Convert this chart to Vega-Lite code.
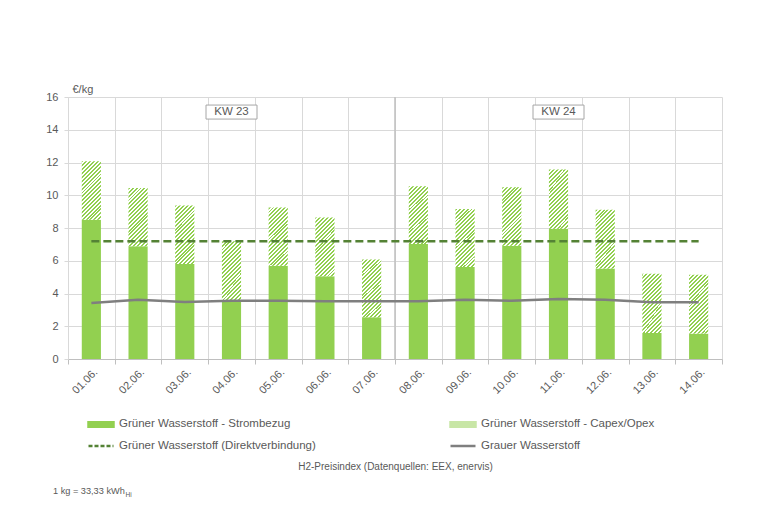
{
  "$schema": "https://vega.github.io/schema/vega-lite/v6.json",
  "width": 654,
  "height": 262,
  "autosize": {"type": "none"},
  "padding": {"left": 68, "top": 97, "right": 38, "bottom": 166},
  "config": {
    "font": "Liberation Sans",
    "view": {"stroke": null},
    "axis": {"labelColor": "#595959", "titleColor": "#595959", "labelFontSize": 11, "gridColor": "#d9d9d9", "tickColor": "#d9d9d9", "domainColor": "#d9d9d9", "titleFontWeight": "normal", "labelFont": "Liberation Sans", "titleFont": "Liberation Sans"},
    "axisY": {"tickCount": 10, "labelOverlap": false, "grid": true, "tickSize": 4, "labelPadding": 6, "titleAngle": 0, "titleAlign": "left", "titleBaseline": "alphabetic", "titleX": 4, "titleY": -5, "titleFontSize": 11}
  },
  "datasets": {
    "main": [
      {"date": "01.06.", "strom": 8.51, "total": 12.08, "direkt": 7.19, "grau": 3.42},
      {"date": "02.06.", "strom": 6.88, "total": 10.45, "direkt": 7.19, "grau": 3.62},
      {"date": "03.06.", "strom": 5.80, "total": 9.37, "direkt": 7.19, "grau": 3.48},
      {"date": "04.06.", "strom": 3.58, "total": 7.19, "direkt": 7.19, "grau": 3.56},
      {"date": "05.06.", "strom": 5.70, "total": 9.25, "direkt": 7.19, "grau": 3.56},
      {"date": "06.06.", "strom": 5.05, "total": 8.64, "direkt": 7.19, "grau": 3.52},
      {"date": "07.06.", "strom": 2.55, "total": 6.07, "direkt": 7.19, "grau": 3.52},
      {"date": "08.06.", "strom": 7.03, "total": 10.55, "direkt": 7.19, "grau": 3.52},
      {"date": "09.06.", "strom": 5.62, "total": 9.16, "direkt": 7.19, "grau": 3.62},
      {"date": "10.06.", "strom": 6.92, "total": 10.49, "direkt": 7.19, "grau": 3.56},
      {"date": "11.06.", "strom": 7.96, "total": 11.57, "direkt": 7.19, "grau": 3.66},
      {"date": "12.06.", "strom": 5.52, "total": 9.12, "direkt": 7.19, "grau": 3.62},
      {"date": "13.06.", "strom": 1.59, "total": 5.21, "direkt": 7.19, "grau": 3.46},
      {"date": "14.06.", "strom": 1.55, "total": 5.15, "direkt": 7.19, "grau": 3.46}
    ],
    "kw": [
      {"date": "04.06.", "label": "KW 23", "ypos": 15.08},
      {"date": "11.06.", "label": "KW 24", "ypos": 15.08}
    ],
    "sep": [{"date": "08.06."}],
    "note": [{"date": "01.06.", "note": "1 kg = 33,33 kWh", "sub": "Hi", "ny": -8.24, "sy": -8.45}]
  },
  "data": {"name": "main"},
  "encoding": {
    "x": {
      "field": "date", "type": "nominal", "sort": null,
      "scale": {"domain": ["01.06.", "02.06.", "03.06.", "04.06.", "05.06.", "06.06.", "07.06.", "08.06.", "09.06.", "10.06.", "11.06.", "12.06.", "13.06.", "14.06."], "paddingInner": 0, "paddingOuter": 0},
      "axis": {"grid": true, "tickBand": "extent", "domainColor": "#bfbfbf", "tickColor": "#bfbfbf", "tickSize": 5, "labelAngle": -45, "labelPadding": 2, "title": "H2-Preisindex (Datenquellen: EEX, enervis)", "titleFontSize": 10, "titleY": 110, "titleBaseline": "alphabetic"}
    }
  },
  "layer": [
    {
      "mark": {"type": "bar", "width": {"band": 0.41}},
      "encoding": {
        "y": {"field": "strom", "type": "quantitative", "title": "€/kg", "scale": {"domain": [0, 16], "nice": false},
          "axis": {"values": [0, 2, 4, 6, 8, 10, 12, 14, 16], "tickCount": 10}},
        "color": {
          "datum": "Grüner Wasserstoff - Strombezug",
          "scale": {
            "domain": ["Grüner Wasserstoff - Strombezug", "Grüner Wasserstoff - Capex/Opex", "Grüner Wasserstoff (Direktverbindung)", "Grauer Wasserstoff"],
            "range": ["#92d050", "#c8e6a6", "#548235", "#7f7f7f"]
          },
          "legend": {
            "orient": "none", "legendX": 19, "legendY": 313, "columns": 2, "direction": "horizontal", "columnPadding": 129, "rowPadding": -4,
            "title": null, "labelFontSize": 11.5, "labelColor": "#595959", "labelLimit": 400, "labelOffset": 4, "labelFont": "Liberation Sans", "symbolSize": 625,
            "encode": {
              "symbols": {
                "update": {
                  "shape": [{"test": "datum.value === 'Grüner Wasserstoff (Direktverbindung)' || datum.value === 'Grauer Wasserstoff'", "value": "stroke"}, {"value": "M-1,-0.18H1V0.18H-1Z"}],
                  "fill": [
                    {"test": "datum.value === 'Grüner Wasserstoff - Strombezug'", "value": "#92d050"},
                    {"test": "datum.value === 'Grüner Wasserstoff - Capex/Opex'", "value": {"gradient": "linear", "x1": 0, "y1": 0, "x2": 1.143, "y2": 0.206, "stops": [
                      {"offset": 0, "color": "#92d050"}, {"offset": 0.0625, "color": "#92d050"}, {"offset": 0.0625, "color": "#ffffff"}, {"offset": 0.125, "color": "#ffffff"},
                      {"offset": 0.125, "color": "#92d050"}, {"offset": 0.1875, "color": "#92d050"}, {"offset": 0.1875, "color": "#ffffff"}, {"offset": 0.25, "color": "#ffffff"},
                      {"offset": 0.25, "color": "#92d050"}, {"offset": 0.3125, "color": "#92d050"}, {"offset": 0.3125, "color": "#ffffff"}, {"offset": 0.375, "color": "#ffffff"},
                      {"offset": 0.375, "color": "#92d050"}, {"offset": 0.4375, "color": "#92d050"}, {"offset": 0.4375, "color": "#ffffff"}, {"offset": 0.5, "color": "#ffffff"},
                      {"offset": 0.5, "color": "#92d050"}, {"offset": 0.5625, "color": "#92d050"}, {"offset": 0.5625, "color": "#ffffff"}, {"offset": 0.625, "color": "#ffffff"},
                      {"offset": 0.625, "color": "#92d050"}, {"offset": 0.6875, "color": "#92d050"}, {"offset": 0.6875, "color": "#ffffff"}, {"offset": 0.75, "color": "#ffffff"},
                      {"offset": 0.75, "color": "#92d050"}, {"offset": 0.8125, "color": "#92d050"}, {"offset": 0.8125, "color": "#ffffff"}, {"offset": 0.875, "color": "#ffffff"},
                      {"offset": 0.875, "color": "#92d050"}, {"offset": 0.9375, "color": "#92d050"}, {"offset": 0.9375, "color": "#ffffff"}, {"offset": 1, "color": "#ffffff"}
                    ]}},
                    {"value": "transparent"}
                  ],
                  "stroke": [
                    {"test": "datum.value === 'Grüner Wasserstoff (Direktverbindung)'", "value": "#548235"},
                    {"test": "datum.value === 'Grauer Wasserstoff'", "value": "#7f7f7f"},
                    {"value": "transparent"}
                  ],
                  "strokeDash": [{"test": "datum.value === 'Grüner Wasserstoff (Direktverbindung)'", "value": [4, 2]}, {"value": []}],
                  "strokeWidth": {"value": 2.5},
                  "size": {"value": 625},
                  "opacity": {"value": 1}
                }
              }
            }
          }
        }
      }
    },
    {
      "mark": {"type": "bar", "width": {"band": 0.41}},
      "encoding": {
        "y": {"field": "strom", "type": "quantitative", "title": "€/kg"},
        "y2": {"field": "total"},
        "color": {
          "condition": {"test": "true", "value": {"gradient": "linear", "x1": 0, "y1": 0, "x2": 0.393, "y2": 1.199, "stops": [
                {"offset": 0, "color": "#92d050"}, {"offset": 0.025, "color": "#92d050"}, {"offset": 0.025, "color": "#ffffff"}, {"offset": 0.05, "color": "#ffffff"},
                {"offset": 0.05, "color": "#92d050"}, {"offset": 0.075, "color": "#92d050"}, {"offset": 0.075, "color": "#ffffff"}, {"offset": 0.1, "color": "#ffffff"},
                {"offset": 0.1, "color": "#92d050"}, {"offset": 0.125, "color": "#92d050"}, {"offset": 0.125, "color": "#ffffff"}, {"offset": 0.15, "color": "#ffffff"},
                {"offset": 0.15, "color": "#92d050"}, {"offset": 0.175, "color": "#92d050"}, {"offset": 0.175, "color": "#ffffff"}, {"offset": 0.2, "color": "#ffffff"},
                {"offset": 0.2, "color": "#92d050"}, {"offset": 0.225, "color": "#92d050"}, {"offset": 0.225, "color": "#ffffff"}, {"offset": 0.25, "color": "#ffffff"},
                {"offset": 0.25, "color": "#92d050"}, {"offset": 0.275, "color": "#92d050"}, {"offset": 0.275, "color": "#ffffff"}, {"offset": 0.3, "color": "#ffffff"},
                {"offset": 0.3, "color": "#92d050"}, {"offset": 0.325, "color": "#92d050"}, {"offset": 0.325, "color": "#ffffff"}, {"offset": 0.35, "color": "#ffffff"},
                {"offset": 0.35, "color": "#92d050"}, {"offset": 0.375, "color": "#92d050"}, {"offset": 0.375, "color": "#ffffff"}, {"offset": 0.4, "color": "#ffffff"},
                {"offset": 0.4, "color": "#92d050"}, {"offset": 0.425, "color": "#92d050"}, {"offset": 0.425, "color": "#ffffff"}, {"offset": 0.45, "color": "#ffffff"},
                {"offset": 0.45, "color": "#92d050"}, {"offset": 0.475, "color": "#92d050"}, {"offset": 0.475, "color": "#ffffff"}, {"offset": 0.5, "color": "#ffffff"},
                {"offset": 0.5, "color": "#92d050"}, {"offset": 0.525, "color": "#92d050"}, {"offset": 0.525, "color": "#ffffff"}, {"offset": 0.55, "color": "#ffffff"},
                {"offset": 0.55, "color": "#92d050"}, {"offset": 0.575, "color": "#92d050"}, {"offset": 0.575, "color": "#ffffff"}, {"offset": 0.6, "color": "#ffffff"},
                {"offset": 0.6, "color": "#92d050"}, {"offset": 0.625, "color": "#92d050"}, {"offset": 0.625, "color": "#ffffff"}, {"offset": 0.65, "color": "#ffffff"},
                {"offset": 0.65, "color": "#92d050"}, {"offset": 0.675, "color": "#92d050"}, {"offset": 0.675, "color": "#ffffff"}, {"offset": 0.7, "color": "#ffffff"},
                {"offset": 0.7, "color": "#92d050"}, {"offset": 0.725, "color": "#92d050"}, {"offset": 0.725, "color": "#ffffff"}, {"offset": 0.75, "color": "#ffffff"},
                {"offset": 0.75, "color": "#92d050"}, {"offset": 0.775, "color": "#92d050"}, {"offset": 0.775, "color": "#ffffff"}, {"offset": 0.8, "color": "#ffffff"},
                {"offset": 0.8, "color": "#92d050"}, {"offset": 0.825, "color": "#92d050"}, {"offset": 0.825, "color": "#ffffff"}, {"offset": 0.85, "color": "#ffffff"},
                {"offset": 0.85, "color": "#92d050"}, {"offset": 0.875, "color": "#92d050"}, {"offset": 0.875, "color": "#ffffff"}, {"offset": 0.9, "color": "#ffffff"},
                {"offset": 0.9, "color": "#92d050"}, {"offset": 0.925, "color": "#92d050"}, {"offset": 0.925, "color": "#ffffff"}, {"offset": 0.95, "color": "#ffffff"},
                {"offset": 0.95, "color": "#92d050"}, {"offset": 0.975, "color": "#92d050"}, {"offset": 0.975, "color": "#ffffff"}, {"offset": 1, "color": "#ffffff"}
              ]}},
          "datum": "Grüner Wasserstoff - Capex/Opex"
        }
      }
    },
    {
      "data": {"name": "sep"},
      "mark": {"type": "rule", "color": "#bfbfbf", "strokeWidth": 1.5},
      "encoding": {"x": {"field": "date", "type": "nominal", "bandPosition": 0}}
    },
    {
      "mark": {"type": "line", "strokeDash": [8, 4], "strokeWidth": 2.3},
      "encoding": {
        "y": {"field": "direkt", "type": "quantitative", "title": "€/kg"},
        "color": {"datum": "Grüner Wasserstoff (Direktverbindung)"}
      }
    },
    {
      "mark": {"type": "line", "strokeWidth": 2.5},
      "encoding": {
        "y": {"field": "grau", "type": "quantitative", "title": "€/kg"},
        "color": {"datum": "Grauer Wasserstoff"}
      }
    },
    {
      "data": {"name": "kw"},
      "mark": {"type": "point", "shape": "M-1,-0.275H1V0.275H-1Z", "size": 2601, "filled": true, "color": "#ffffff", "stroke": "#a6a6a6", "strokeWidth": 1, "opacity": 1},
      "encoding": {"y": {"field": "ypos", "type": "quantitative", "title": "€/kg"}}
    },
    {
      "data": {"name": "kw"},
      "mark": {"type": "text", "fontSize": 11.5, "color": "#595959", "baseline": "middle", "align": "center", "font": "Liberation Sans"},
      "encoding": {"y": {"field": "ypos", "type": "quantitative", "title": "€/kg"}, "text": {"field": "label"}}
    },
    {
      "data": {"name": "note"},
      "mark": {"type": "text", "fontSize": 9.2, "color": "#595959", "align": "left", "baseline": "alphabetic", "dx": -15, "font": "Liberation Sans"},
      "encoding": {"x": {"field": "date", "type": "nominal", "bandPosition": 0}, "y": {"field": "ny", "type": "quantitative", "title": "€/kg"}, "text": {"field": "note"}}
    },
    {
      "data": {"name": "note"},
      "mark": {"type": "text", "fontSize": 6.5, "color": "#595959", "align": "left", "baseline": "alphabetic", "dx": 57.5, "font": "Liberation Sans"},
      "encoding": {"x": {"field": "date", "type": "nominal", "bandPosition": 0}, "y": {"field": "sy", "type": "quantitative", "title": "€/kg"}, "text": {"field": "sub"}}
    }
  ]
}
